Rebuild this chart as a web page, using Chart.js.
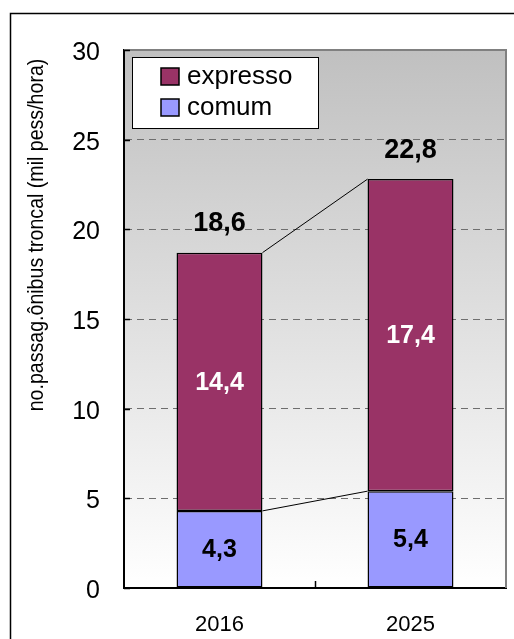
<!DOCTYPE html>
<html>
<head>
<meta charset="utf-8">
<script src="https://cdn.jsdelivr.net/npm/chart.js@4/dist/chart.umd.min.js"></script>
<style>
  html, body { margin: 0; padding: 0; background: #fff; }
  canvas { display: block; }
</style>
</head>
<body>
<canvas id="myChart" width="514" height="639"></canvas>
<script>
// chart values
const years = ['2016', '2025'];
const comum = [4.3, 5.4];
const expresso = [14.4, 17.4];
const totals = [18.6, 22.8];
const yTitle = 'no.passag.ônibus troncal (mil pess/hora)';

const FONT = '"Liberation Sans", Arial, sans-serif';
const fmt = (v) => v.toFixed(1).replace('.', ',');

const decorPlugin = {
  id: 'decor',
  beforeDraw(chart) {
    const { ctx, chartArea: a } = chart;
    ctx.save();
    // outer frame (runs off the right/bottom edge)
    ctx.strokeStyle = '#000';
    ctx.lineWidth = 1.5;
    ctx.strokeRect(10.5, 13.5, 600, 700);
    // plot area gradient
    const g = ctx.createLinearGradient(0, a.top, 0, a.bottom);
    g.addColorStop(0, '#c0c0c0');
    g.addColorStop(1, '#ffffff');
    ctx.fillStyle = g;
    ctx.fillRect(a.left, a.top, a.right - a.left, a.bottom - a.top);
    ctx.restore();
  },
  afterDatasetsDraw(chart) {
    const { ctx, chartArea: a, scales } = chart;
    const y = scales.y, x = scales.x;
    ctx.save();

    // plot border top / right
    ctx.strokeStyle = '#808080';
    ctx.lineWidth = 2;
    ctx.beginPath();
    ctx.moveTo(a.left, a.top);
    ctx.lineTo(a.right, a.top);
    ctx.lineTo(a.right, a.bottom);
    ctx.stroke();

    // small inward ticks on y axis
    ctx.strokeStyle = '#000';
    ctx.lineWidth = 1.5;
    y.ticks.forEach(t => {
      const py = Math.round(y.getPixelForValue(t.value)) + 0.5;
      ctx.beginPath();
      ctx.moveTo(a.left, py);
      ctx.lineTo(a.left + 6, py);
      ctx.stroke();
    });
    // tick between categories on x axis
    const mid = (x.getPixelForValue(0) + x.getPixelForValue(1)) / 2;
    ctx.beginPath();
    ctx.moveTo(Math.round(mid) + 0.5, a.bottom);
    ctx.lineTo(Math.round(mid) + 0.5, a.bottom - 7);
    ctx.stroke();

    // connector lines between stacked segments
    ctx.lineWidth = 1;
    chart.data.datasets.forEach((ds, i) => {
      const els = chart.getDatasetMeta(i).data;
      for (let k = 0; k < els.length - 1; k++) {
        const p = els[k], q = els[k + 1];
        ctx.beginPath();
        ctx.moveTo(p.x + p.width / 2, p.y);
        ctx.lineTo(q.x - q.width / 2, q.y);
        ctx.stroke();
      }
    });

    // value labels inside segments
    ctx.textAlign = 'center';
    ctx.textBaseline = 'middle';
    ctx.font = 'bold 25px ' + FONT;
    chart.data.datasets.forEach((ds, i) => {
      chart.getDatasetMeta(i).data.forEach((el, k) => {
        ctx.fillStyle = ds.labelColor;
        ctx.fillText(fmt(ds.data[k]), el.x, (el.y + el.base) / 2 + 1);
      });
    });

    // totals above bars
    const topMeta = chart.getDatasetMeta(chart.data.datasets.length - 1);
    ctx.fillStyle = '#000';
    ctx.font = 'bold 27px ' + FONT;
    topMeta.data.forEach((el, k) => {
      ctx.fillText(fmt(totals[k]), el.x, el.y - 29);
    });

    // legend inside plot area
    const lx = a.left + 8, ly = a.top + 7, lw = 186, lh = 71;
    ctx.fillStyle = '#fff';
    ctx.fillRect(lx, ly, lw, lh);
    ctx.strokeStyle = '#000';
    ctx.lineWidth = 1;
    ctx.strokeRect(lx + 0.5, ly + 0.5, lw, lh);
    const order = chart.data.datasets.slice().reverse();
    ctx.font = '26px ' + FONT;
    ctx.textAlign = 'left';
    order.forEach((ds, i) => {
      const sy = ly + 11 + i * 31;
      ctx.fillStyle = ds.backgroundColor;
      ctx.fillRect(lx + 29, sy, 18, 17);
      ctx.strokeStyle = '#000';
      ctx.lineWidth = 1.5;
      ctx.strokeRect(lx + 29, sy, 18, 17);
      ctx.fillStyle = '#000';
      ctx.fillText(ds.label, lx + 55, sy + 9);
    });

    // y axis title
    ctx.translate(37, 235);
    ctx.rotate(-Math.PI / 2);
    ctx.scale(0.89, 1);
    ctx.textAlign = 'center';
    ctx.font = '22px ' + FONT;
    ctx.fillText(yTitle, 0, 0);

    ctx.restore();
  }
};

new Chart(document.getElementById('myChart'), {
  type: 'bar',
  data: {
    labels: years,
    datasets: [
      { label: 'comum', data: comum, backgroundColor: '#9999ff', labelColor: '#000' },
      { label: 'expresso', data: expresso, backgroundColor: '#993366', labelColor: '#fff' }
    ]
  },
  options: {
    responsive: false,
    animation: false,
    datasets: {
      bar: {
        borderColor: '#000',
        borderWidth: 1.5,
        borderSkipped: false,
        barPercentage: 0.45,
        categoryPercentage: 1
      }
    },
    layout: { padding: { top: 50, right: 8, bottom: 0, left: 0 } },
    plugins: {
      legend: { display: false },
      tooltip: { enabled: false }
    },
    scales: {
      x: {
        stacked: true,
        grid: { display: false },
        border: { display: true, color: '#000', width: 2 },
        ticks: { color: '#000', font: { family: FONT, size: 22 }, padding: 16 },
        afterFit: (s) => { s.height = 51; }
      },
      y: {
        stacked: true,
        min: 0,
        max: 30,
        ticks: { stepSize: 5, color: '#000', font: { family: FONT, size: 25 }, padding: 24, labelOffset: 3 },
        grid: {
          drawTicks: false,
          lineWidth: 1,
          color: (c) => (c.tick && (c.tick.value === 0 || c.tick.value === 30)) ? 'rgba(0,0,0,0)' : '#6e6e6e'
        },
        border: { display: true, color: '#000', width: 2, dash: [7, 5] },
        afterFit: (s) => { s.width = 124; }
      }
    }
  },
  plugins: [decorPlugin]
});
</script>
</body>
</html>
